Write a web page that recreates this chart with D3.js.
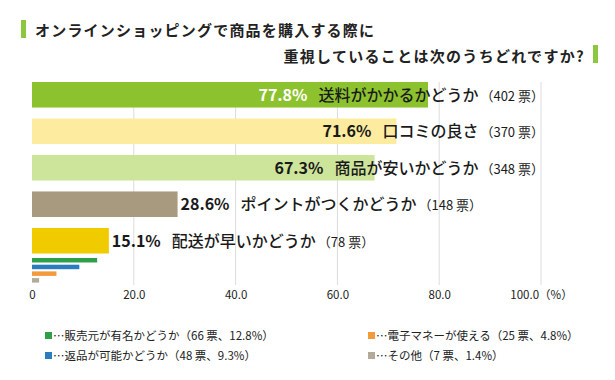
<!DOCTYPE html>
<html>
<head>
<meta charset="utf-8">
<script src="https://cdn.jsdelivr.net/npm/d3@7"></script>
<style>
  body { margin: 0; background: #fff; }
  text { font-family: "Noto Sans CJK JP", "Noto Sans", sans-serif; }
</style>
</head>
<body>
<div id="chart"></div>
<script>
// --------------------------------------
//  Data
// --------------------------------------

const titleLines = ["オンラインショッピングで商品を購入する際に", "重視していることは次のうちどれですか?"];

const mainLabels = ["送料がかかるかどうか", "口コミの良さ", "商品が安いかどうか", "ポイントがつくかどうか", "配送が早いかどうか"];
const mainValues = [77.8, 71.6, 67.3, 28.6, 15.1];
const mainVotes = [402, 370, 348, 148, 78];
const mainColors = ["#8dc22f", "#fdeb9f", "#cde59b", "#a89a7f", "#efcb00"];

const minorLabels = ["販売元が有名かどうか", "返品が可能かどうか", "電子マネーが使える", "その他"];
const minorValues = [12.8, 9.3, 4.8, 1.4];
const minorVotes = [66, 48, 25, 7];
const minorColors = ["#2f9e49", "#2b7cbd", "#f39a3b", "#b3aa9a"];

const xTicks = [0, 20, 40, 60, 80, 100];
const unitLabel = "（%）";

// --------------------------------------
//  Canvas
// --------------------------------------

const width = 615;
const height = 380;

const svg = d3
  .select("#chart")
  .append("svg")
  .attr("width", width)
  .attr("height", height)
  .attr("viewBox", [0, 0, width, height]);

// --------------------------------------
//  Scales
// --------------------------------------

const x = d3.scaleLinear([0, 100], [32, 541]);
const y = d3.scaleBand(mainLabels, [82, 253.5]).paddingInner(0.3).paddingOuter(0);
const y2 = d3.scaleBand(minorLabels, [258, 282.6]).paddingInner(0.33).paddingOuter(0);

const mainData = mainLabels.map((d, i) => ({ label: d, value: mainValues[i], votes: mainVotes[i], color: mainColors[i], idx: i }));
const minorData = minorLabels.map((d, i) => ({ label: d, value: minorValues[i], votes: minorVotes[i], color: minorColors[i] }));

// --------------------------------------
//  Title
// --------------------------------------

svg.append("rect").attr("x", 21).attr("y", 20).attr("width", 5).attr("height", 18).attr("fill", "#8dc63f");
svg.append("rect").attr("x", 593).attr("y", 45).attr("width", 5).attr("height", 18).attr("fill", "#8dc63f");

svg.append("text")
  .attr("x", 35).attr("y", 36)
  .attr("font-size", 15).attr("font-weight", "bold").attr("letter-spacing", 1.2)
  .attr("fill", "#222")
  .text(titleLines[0]);

svg.append("text")
  .attr("x", 585).attr("y", 62)
  .attr("text-anchor", "end")
  .attr("font-size", 15).attr("font-weight", "bold").attr("letter-spacing", 1.3)
  .attr("fill", "#222")
  .text(titleLines[1]);

// --------------------------------------
//  Grid + axis
// --------------------------------------

svg.selectAll("line.grid")
  .data(xTicks.filter(d => d > 0))
  .join("line")
  .attr("class", "grid")
  .attr("x1", d => x(d)).attr("x2", d => x(d))
  .attr("y1", 82).attr("y2", 285)
  .attr("stroke", "#dcdcdc")
  .attr("stroke-width", 1);

// last tick carries the unit, the whole string centred on the gridline
const xAxis = svg.append("g")
  .attr("transform", "translate(0,288)")
  .call(d3.axisBottom(x).tickValues(xTicks).tickSize(0).tickPadding(3)
    .tickFormat(d => d === 0 ? "0" : d3.format(".1f")(d) + (d === 100 ? unitLabel : "")));
xAxis.select(".domain").remove();
xAxis.selectAll("text")
  .attr("font-size", 11.5)
  .attr("fill", "#222")
  .style("font-family", "\"Noto Sans CJK JP\", sans-serif");

// --------------------------------------
//  Bars
// --------------------------------------

svg.selectAll("rect.main")
  .data(mainData)
  .join("rect")
  .attr("class", "main")
  .attr("x", x(0))
  .attr("y", d => y(d.label))
  .attr("width", d => x(d.value) - x(0))
  .attr("height", y.bandwidth())
  .attr("fill", d => d.color);

svg.selectAll("rect.minor")
  .data(minorData)
  .join("rect")
  .attr("class", "minor")
  .attr("x", x(0))
  .attr("y", d => y2(d.label))
  .attr("width", d => x(d.value) - x(0))
  .attr("height", y2.bandwidth())
  .attr("fill", d => d.color);

// bar labels: long bars get the text pushed inside, short ones outside
const labels = svg.selectAll("text.barlabel")
  .data(mainData)
  .join("text")
  .attr("class", "barlabel")
  .attr("x", d => d.value > 50 ? x(100) + 3 : x(d.value) + 3)
  .attr("y", d => y(d.label) + y.bandwidth() / 2 + 6)
  .attr("text-anchor", d => d.value > 50 ? "end" : "start")
  .attr("fill", "#1a1a1a");

labels.append("tspan")
  .attr("font-size", 16)
  .attr("font-weight", "bold")
  .attr("fill", d => d.idx === 0 ? "#fff" : "#1a1a1a")
  .text(d => d.value.toFixed(1) + "%");

labels.append("tspan")
  .attr("dx", 11)
  .attr("font-size", 16)
  .attr("font-weight", 500)
  .text(d => d.label);

labels.append("tspan")
  .attr("dx", 2)
  .attr("font-size", 13)
  .text(d => `（${d.votes} 票）`);

// --------------------------------------
//  Legend
// --------------------------------------

const legend = svg.selectAll("g.legend")
  .data(minorData)
  .join("g")
  .attr("class", "legend")
  .attr("transform", (d, i) => `translate(${i < 2 ? 45 : 368}, ${i % 2 === 0 ? 332 : 352})`);

legend.append("rect")
  .attr("width", 7).attr("height", 7)
  .attr("fill", d => d.color);

legend.append("text")
  .attr("x", 8).attr("y", 8)
  .attr("font-size", 11.5)
  .attr("fill", "#222")
  .text(d => `…${d.label}（${d.votes} 票、${d.value}%）`);
</script>
</body>
</html>
